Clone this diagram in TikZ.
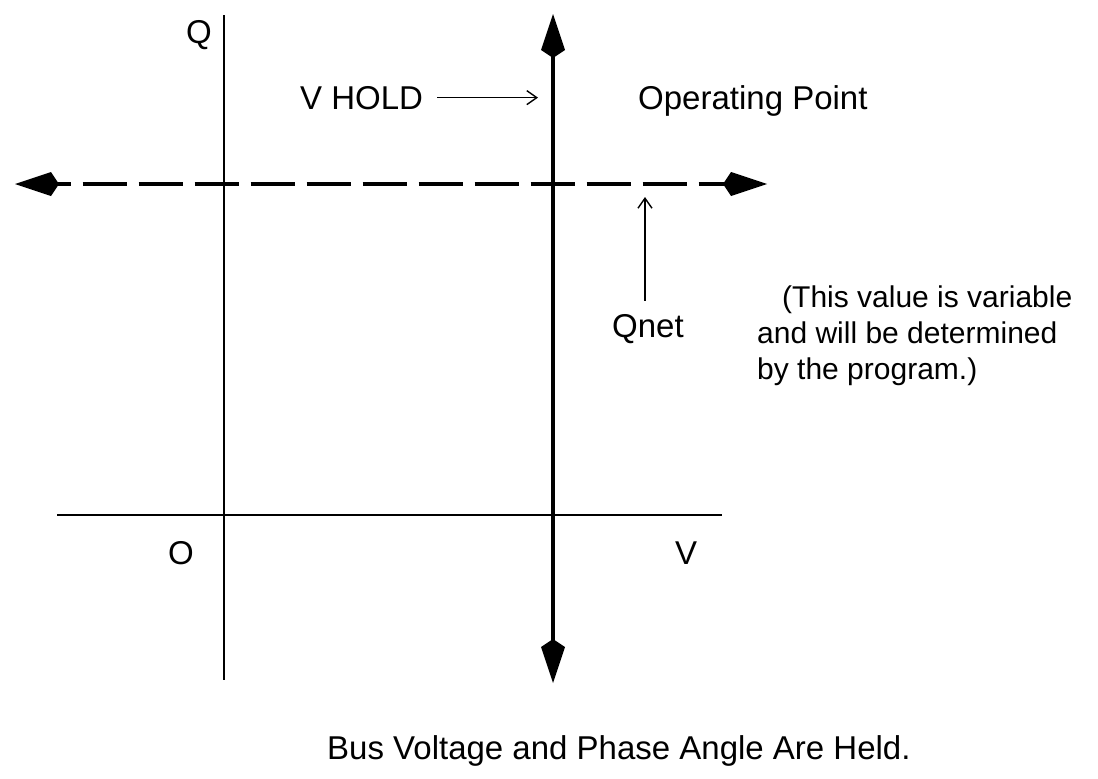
\documentclass[tikz,border=0pt]{standalone}
\usepackage{fontspec}
\setmainfont{Liberation Sans}
\usetikzlibrary{arrows.meta, positioning, calc}

\begin{document}
\begin{tikzpicture}[
        x=1pt, y=-1pt,
        axis/.style={line width=2pt, draw=black},
        holdline/.style={{Kite[length=44pt, width=24pt, inset=8pt]}-{Kite[length=44pt, width=24pt, inset=8pt]}, line width=4pt},
        qline/.style={holdline, dash pattern=on 44pt off 12pt, dash phase=30pt},
        pointer/.style={-{Straight Barb[length=10pt, width=14pt]}, line width=1.4pt},
        txt/.style={font=\fontsize{33}{38}\selectfont, inner sep=0pt, anchor=base west},
        notetxt/.style={txt, font=\fontsize{30}{36}\selectfont, align=left}
    ]
        \useasboundingbox (0,0) rectangle (1098,779);

        % Axes
        \coordinate (qtop) at (224,15);
        \coordinate (qbot) at (224,680);
        \coordinate (vleft) at (57,515);
        \coordinate (vright) at (722,515);
        \draw[axis] (qtop) -- (qbot);
        \draw[axis] (vleft) -- (vright);

        % Held voltage and variable Q
        \coordinate (holdtop) at (553,14);
        \coordinate (holdbot) at (553,683);
        \coordinate (netleft) at (15,184);
        \coordinate (netright) at (767,184);
        \draw[holdline] (holdbot) -- (holdtop);
        \draw[qline] (netleft) -- (netright);

        % Labels
        \node[txt] (qlabel) at (186,43) {Q};
        \node[txt] (olabel) at (168,564) {O};
        \node[txt] (vlabel) at (675,564) {V};
        \node[txt] (vhold) at (300,109) {V HOLD};
        \node[txt] (oppoint) at (638,109) {Operating Point};
        \node[txt] (qnet) at (612,337) {Qnet};
        \node[notetxt] (note) at (757,379) {\hspace*{25pt}(This value is variable\\and will be determined\\by the program.)};
        \node[txt] (caption) at (327,759) {Bus Voltage and Phase Angle Are Held.};

        % Pointers
        \draw[pointer, shorten <=14pt, shorten >=15pt] (vhold.east) -- (vhold.east -| holdtop);
        \draw[pointer] ([xshift=-3pt, yshift=13pt]qnet.north) -- ([xshift=-3pt, yshift=-13pt]qnet.north |- netleft);

    \end{tikzpicture}
\end{document}
